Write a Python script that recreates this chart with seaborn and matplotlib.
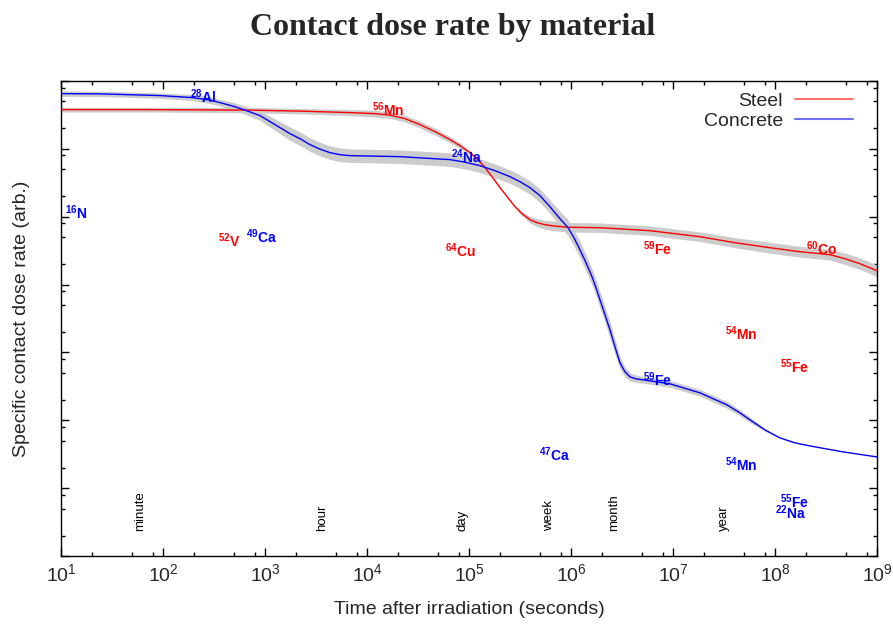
import numpy as np
import pandas as pd
import matplotlib
matplotlib.use("Agg")
import matplotlib.pyplot as plt
import matplotlib.transforms as mtransforms
from matplotlib.lines import Line2D
from matplotlib.ticker import FixedLocator, LogFormatterSciNotation, NullFormatter
import seaborn as sns

# ---------------- data (log10 seconds, log10 arbitrary dose rate) ----------------
steel_log_t = [1.000, 1.873, 2.853, 3.343, 3.833, 4.078, 4.225, 4.373, 4.520, 4.667,
               4.814, 4.912, 5.010, 5.088, 5.157, 5.225, 5.304, 5.382, 5.451, 5.520,
               5.598, 5.667, 5.745, 5.853, 5.971, 6.284, 6.775, 7.265, 7.608, 7.951,
               8.245, 8.539, 8.686, 8.833, 9.000]
steel_log_rate = [6.578, 6.578, 6.571, 6.556, 6.534, 6.519, 6.497, 6.445, 6.357, 6.254,
                  6.136, 6.047, 5.944, 5.841, 5.723, 5.590, 5.428, 5.280, 5.147, 5.044,
                  4.956, 4.912, 4.882, 4.860, 4.845, 4.838, 4.794, 4.705, 4.617, 4.543,
                  4.484, 4.440, 4.381, 4.307, 4.204]
steel_band = [0.035, 0.035, 0.04, 0.04, 0.045, 0.05, 0.05, 0.05, 0.05, 0.05,
              0.045, 0.04, 0.03, 0.015, 0.0, 0.0, 0.0, 0.0, 0.01, 0.03,
              0.05, 0.06, 0.065, 0.07, 0.07, 0.07, 0.07, 0.07, 0.075, 0.08,
              0.08, 0.08, 0.085, 0.085, 0.085]

concrete_log_t = [1.000, 1.382, 1.647, 1.971, 2.294,
                  2.461, 2.559, 2.686, 2.804, 2.951, 3.049, 3.147, 3.245, 3.343, 3.441,
                  3.539, 3.637, 3.735, 3.833, 4.324, 4.814, 4.961, 5.108, 5.255, 5.402,
                  5.500, 5.598, 5.696, 5.794, 5.892,
                  5.971, 6.029, 6.088, 6.147, 6.206, 6.245, 6.284, 6.333, 6.382, 6.431,
                  6.480, 6.529, 6.578, 6.637, 6.706,
                  6.971, 7.265, 7.529, 7.657, 7.755, 7.902, 8.049, 8.196, 8.343, 8.667,
                  9.000]
concrete_log_rate = [6.814, 6.810, 6.799, 6.785, 6.755,
                     6.718, 6.681, 6.630, 6.571, 6.490, 6.401, 6.313, 6.224, 6.150, 6.062,
                     5.996, 5.944, 5.914, 5.900, 5.885, 5.841, 5.804, 5.752, 5.678, 5.590,
                     5.516, 5.428, 5.310, 5.147, 4.971,
                     4.838, 4.690, 4.513, 4.322, 4.115, 3.953, 3.776, 3.555, 3.333, 3.083,
                     2.847, 2.714, 2.640, 2.611, 2.596,
                     2.537, 2.404, 2.227, 2.109, 2.006, 1.858, 1.740, 1.667, 1.622, 1.534,
                     1.460]
concrete_band = [0.04, 0.04, 0.04, 0.04, 0.045,
                 0.05, 0.05, 0.055, 0.06, 0.07, 0.08, 0.09, 0.1, 0.1, 0.1,
                 0.1, 0.1, 0.1, 0.1, 0.1, 0.1, 0.1, 0.1, 0.1, 0.1,
                 0.1, 0.1, 0.1, 0.1, 0.11,
                 0.12, 0.12, 0.12, 0.12, 0.12, 0.12, 0.12, 0.12, 0.12, 0.11,
                 0.09, 0.07, 0.06, 0.055, 0.05,
                 0.05, 0.05, 0.05, 0.045, 0.04, 0.02, 0.0, 0.0, 0.0, 0.0,
                 0.0]

# isotope labels
steel_iso_mass = ["52", "56", "64", "59", "60", "54", "55"]
steel_iso_sym = ["V", "Mn", "Cu", "Fe", "Co", "Mn", "Fe"]
steel_iso_logt = [2.647, 4.206, 4.912, 6.843, 8.461, 7.667, 8.196]
steel_iso_lograte = [4.646, 6.578, 4.499, 4.528, 4.528, 3.274, 2.788]

concrete_iso_mass = ["16", "28", "49", "24", "47", "59", "54", "55", "22"]
concrete_iso_sym = ["N", "Al", "Ca", "Na", "Ca", "Fe", "Mn", "Fe", "Na"]
concrete_iso_logt = [1.147, 2.392, 2.971, 4.980, 5.843, 6.843, 7.667, 8.196, 8.157]
concrete_iso_lograte = [5.059, 6.770, 4.705, 5.885, 1.490, 2.596, 1.342, 0.796, 0.634]

time_marks = ["minute", "hour", "day", "week", "month", "year"]
time_mark_seconds = [60, 3600, 86400, 604800, 2629800, 31557600]

x_decades = list(range(1, 10))
y_decades = list(range(0, 8))
minor_subs = [2, 5, 8]

materials = ["Steel", "Concrete"]
colors = {"Steel": "#ff0000", "Concrete": "#0000ff"}

# ---------------- style ----------------
sns.set_theme(style="ticks")
plt.rcParams["font.family"] = ["Liberation Sans", "DejaVu Sans"]
plt.rcParams["mathtext.fontset"] = "custom"
plt.rcParams["mathtext.rm"] = "Liberation Sans"
plt.rcParams["mathtext.bf"] = "Liberation Sans:bold"
plt.rcParams["mathtext.it"] = "Liberation Sans:italic"

df = pd.concat([
    pd.DataFrame({"time": 10 ** np.array(steel_log_t),
                  "rate": 10 ** np.array(steel_log_rate),
                  "band": steel_band, "material": "Steel"}),
    pd.DataFrame({"time": 10 ** np.array(concrete_log_t),
                  "rate": 10 ** np.array(concrete_log_rate),
                  "band": concrete_band, "material": "Concrete"}),
], ignore_index=True)

fig = plt.figure(figsize=(8.93, 6.28), dpi=100)
ax = fig.add_axes([61 / 893, 72 / 628, 816 / 893, 475 / 628])
ax.set_xscale("log")
ax.set_yscale("log")

# uncertainty bands
for m in materials:
    d = df[df["material"] == m]
    lo = d["rate"] / 10 ** d["band"]
    hi = d["rate"] * 10 ** d["band"]
    ax.fill_between(d["time"], lo, hi, color="#cccccc", lw=0, zorder=1)

sns.lineplot(data=df, x="time", y="rate", hue="material", palette=colors,
             hue_order=materials, sort=False, estimator=None, lw=1.0,
             legend=False, ax=ax, zorder=3)

ax.set_xlim(1e1, 1e9)
ax.set_ylim(1e0, 1e7)

# isotope labels
for mass, sym, lt, lr in zip(steel_iso_mass, steel_iso_sym, steel_iso_logt, steel_iso_lograte):
    ax.text(10 ** lt, 10 ** lr, r"$\mathbf{^{%s}}$%s" % (mass, sym), color="#ff0000",
            fontsize=10, fontweight="bold", ha="center", va="center", zorder=4)
for mass, sym, lt, lr in zip(concrete_iso_mass, concrete_iso_sym, concrete_iso_logt, concrete_iso_lograte):
    ax.text(10 ** lt, 10 ** lr, r"$\mathbf{^{%s}}$%s" % (mass, sym), color="#0000ff",
            fontsize=10, fontweight="bold", ha="center", va="center", zorder=4)

# time markers
trans = mtransforms.blended_transform_factory(ax.transData, ax.transAxes)
for name, sec in zip(time_marks, time_mark_seconds):
    ax.text(sec, 0.053, name, rotation=90, ha="center", va="bottom",
            fontsize=9.5, transform=trans, color="black")

# ticks (explicit, inside the view range only)
x_major = [10.0 ** k for k in x_decades]
x_minor = [s * 10.0 ** k for k in x_decades[:-1] for s in minor_subs]
y_major = [10.0 ** k for k in y_decades]
y_minor = [s * 10.0 ** k for k in y_decades[:-1] for s in minor_subs]
ax.xaxis.set_major_locator(FixedLocator(x_major))
ax.xaxis.set_minor_locator(FixedLocator(x_minor))
ax.xaxis.set_major_formatter(LogFormatterSciNotation())
ax.xaxis.set_minor_formatter(NullFormatter())
ax.yaxis.set_major_locator(FixedLocator(y_major))
ax.yaxis.set_minor_locator(FixedLocator(y_minor))
ax.yaxis.set_major_formatter(NullFormatter())
ax.yaxis.set_minor_formatter(NullFormatter())
ax.tick_params(which="both", direction="in", top=True, right=True, color="black", width=1.0)
ax.tick_params(which="major", length=5.5)
ax.tick_params(which="minor", length=2.8)
ax.tick_params(axis="x", which="major", labelsize=14, pad=5)
for s in ax.spines.values():
    s.set_linewidth(1.0)
    s.set_color("black")

ax.set_xlabel("Time after irradiation (seconds)", fontsize=14)
ax.xaxis.set_label_coords(0.5, -0.095)
ax.set_ylabel("Specific contact dose rate (arb.)", fontsize=14)
ax.yaxis.set_label_coords(-0.038, 0.5)

fig.text(453 / 893, 1 - 28 / 628, "Contact dose rate by material", ha="center", va="center",
         fontsize=23, fontweight="bold", family="Liberation Serif")

handles = [Line2D([], [], color="#ff7070", lw=1.5), Line2D([], [], color="#7070ff", lw=1.5)]
ax.legend(handles, materials, loc="upper right", bbox_to_anchor=(0.985, 1.0),
          frameon=False, markerfirst=False, fontsize=14, handlelength=3.0,
          handletextpad=0.6, labelspacing=0.1, borderaxespad=0.2)

fig.savefig("out.png", dpi=100)
